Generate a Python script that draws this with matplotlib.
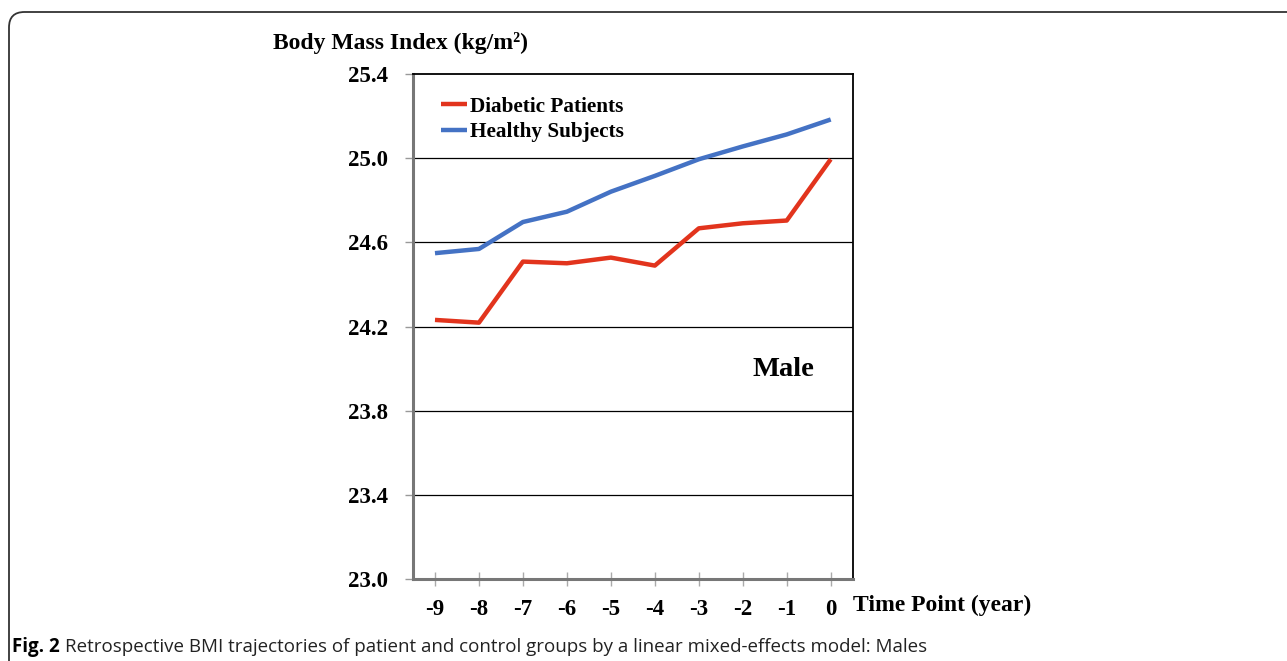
import matplotlib
matplotlib.use("Agg")
import matplotlib.pyplot as plt
from matplotlib.patches import FancyBboxPatch

years = [-9, -8, -7, -6, -5, -4, -3, -2, -1, 0]
diabetic = [24.232, 24.219, 24.509, 24.501, 24.528, 24.490, 24.667, 24.691, 24.704, 24.995]
healthy = [24.549, 24.569, 24.697, 24.746, 24.841, 24.916, 24.995, 25.056, 25.113, 25.184]
yticks = [23.0, 23.4, 23.8, 24.2, 24.6, 25.0, 25.4]
series_labels = ["Diabetic Patients", "Healthy Subjects"]

W, H = 1287, 661
fig = plt.figure(figsize=(W / 100, H / 100), dpi=100)

serif = ["Liberation Serif", "DejaVu Serif"]

# outer rounded frame
frame = FancyBboxPatch((9 / W, 1 - 700 / H), 1400 / W, (700 - 12) / H,
                       boxstyle="round,pad=0,rounding_size=0.012",
                       transform=fig.transFigure, fill=False,
                       edgecolor="#333333", linewidth=1.3, mutation_aspect=W / H)
fig.patches.append(frame)

AX_L, AX_R, AX_T, AX_B = 413, 852.7, 74, 579.3
ax = fig.add_axes([AX_L / W, 1 - AX_B / H, (AX_R - AX_L) / W, (AX_B - AX_T) / H])

ax.plot(years, diabetic, color="#E2341D", linewidth=3.2, solid_capstyle="butt", label=series_labels[0])
ax.plot(years, healthy, color="#4472C4", linewidth=3.2, solid_capstyle="butt", label=series_labels[1])

ax.set_xlim(-9.5, 0.5)
ax.set_ylim(23.0, 25.4)
ax.set_yticks(yticks)
ax.set_yticklabels([f"{v:.1f}" for v in yticks])
ax.set_xticks(years)
ax.set_xticklabels([str(y) for y in years])
for y in yticks[1:-1]:
    ax.axhline(y, color="black", linewidth=0.9, zorder=0)

for lbl in ax.get_yticklabels() + ax.get_xticklabels():
    lbl.set_fontfamily(serif)
    lbl.set_fontweight("bold")
    lbl.set_fontsize(16.5)

ax.tick_params(axis="y", direction="out", length=6, width=1, color="#999999", pad=12)
ax.tick_params(axis="x", direction="inout", length=10, width=1, color="#aaaaaa", pad=9)

ax.spines["left"].set_color("#777777")
ax.spines["left"].set_linewidth(2.2)
ax.spines["bottom"].set_color("#777777")
ax.spines["bottom"].set_linewidth(2.2)
ax.spines["top"].set_color("black")
ax.spines["top"].set_linewidth(1.3)
ax.spines["right"].set_color("black")
ax.spines["right"].set_linewidth(1.3)

leg = ax.legend(loc="upper left", bbox_to_anchor=(0.02, 0.993), frameon=False,
                handlelength=1.25, handletextpad=0.1, labelspacing=0.25,
                prop={"family": serif, "weight": "bold", "size": 15.3})

ax.text((783 - AX_L) / (AX_R - AX_L), (AX_B - 369) / (AX_B - AX_T), "Male",
        transform=ax.transAxes, fontsize=20.5, fontweight="bold",
        family=serif, ha="center", va="center")

fig.text(273 / W, 1 - 43 / H, "Body Mass Index (kg/m²)", family=serif, fontweight="bold",
         fontsize=17, ha="left", va="center")
fig.text(853 / W, 1 - 605 / H, "Time Point (year)", family=serif, fontweight="bold",
         fontsize=17, ha="left", va="center")

cap_y = 1 - 647 / H
t1 = fig.text(12 / W, cap_y, "Fig. 2", family=["Open Sans", "DejaVu Sans"], fontweight="bold",
              fontsize=13.5, ha="left", va="center")
fig.canvas.draw()
bb = t1.get_window_extent()
fig.text((bb.x1 + 5) / W, cap_y,
         "Retrospective BMI trajectories of patient and control groups by a linear mixed-effects model: Males",
         family=["Open Sans", "DejaVu Sans"], fontsize=13.5, ha="left", va="center", color="#222222")

fig.savefig("out.png", dpi=100)
